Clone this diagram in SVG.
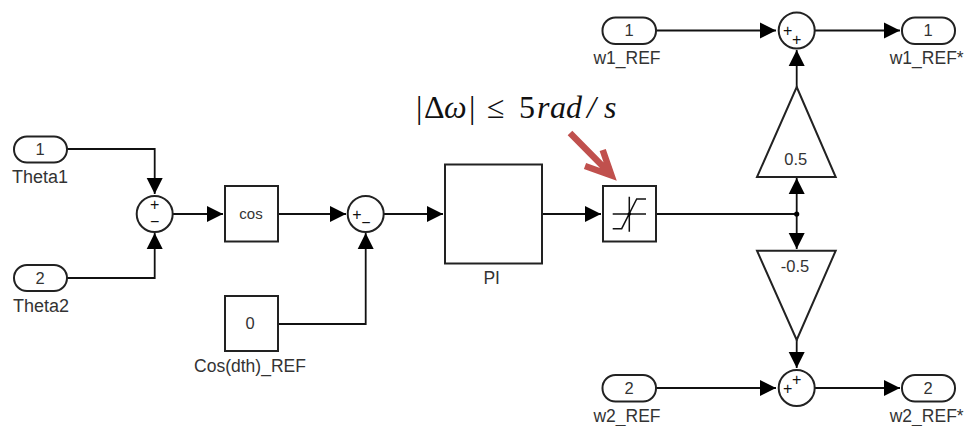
<svg xmlns="http://www.w3.org/2000/svg" width="966" height="426" viewBox="0 0 966 426">
<defs>
<marker id="arr" markerUnits="userSpaceOnUse" markerWidth="17" markerHeight="17" refX="16" refY="8" orient="auto" viewBox="0 0 17 16"><path d="M0 0L16 8L0 16Z" fill="#000"/></marker>
</defs>
<style>
.b{fill:#fff;stroke:#222;stroke-width:2}
.w{fill:none;stroke:#111;stroke-width:1.8}
.w path{marker-end:url(#arr)}
text{font-family:"Liberation Sans",Arial,sans-serif;fill:#333;text-anchor:middle}
.l{font-size:17.5px}
.n{font-size:16.5px}
.s{font-size:16px;fill:#111}
.i{fill:none;stroke:#111;stroke-width:1.5}
.f{font-family:"Liberation Serif","DejaVu Serif",serif;font-size:32px;fill:#111;text-anchor:start}
</style>
<rect width="966" height="426" fill="#fff"/>
<g id="connectors" class="w">
<path d="M67 149H154.700V194"/>
<path d="M67 278H154.700V233"/>
<path d="M173 214H223"/>
<path d="M278 214H346"/>
<path d="M278 324H365.700V233"/>
<path d="M384 214H443"/>
<path d="M542 214H601"/>
<path d="M656 214H796.700" style="marker-end:none"/>
<path d="M796.700 214V178"/>
<path d="M796.700 214V249"/>
<path d="M796.700 87V50"/>
<path d="M796.700 340V368"/>
<path d="M656 30.500H776"/>
<path d="M815 30.500H900"/>
<path d="M656 388H776"/>
<path d="M815 388H900"/>
</g>
<circle id="junction" cx="796.700" cy="214" r="2.600" fill="#000"/>
<g id="theta1"><rect class="b" x="14" y="136.500" width="53" height="26" rx="13"/><text class="n" x="40" y="155">1</text><text font-size="18" x="40" y="183">Theta1</text></g>
<g id="theta2"><rect class="b" x="14" y="265" width="53" height="26" rx="13"/><text class="n" x="40" y="284">2</text><text font-size="18" x="41" y="312">Theta2</text></g>
<g id="sum1"><circle class="b" cx="154.700" cy="214" r="18"/><text class="s" x="154.700" y="210">+</text><text class="s" x="154.700" y="227">−</text></g>
<g id="cos"><rect class="b" x="225" y="186" width="53" height="55.500"/><text x="251" y="219" font-size="15">cos</text></g>
<g id="const0"><rect class="b" x="225" y="296" width="53" height="55"/><text class="n" x="250" y="329">0</text><text class="l" x="250" y="372">Cos(dth)_REF</text></g>
<g id="sum2"><circle class="b" cx="365.700" cy="214" r="18"/><text class="s" x="357" y="219.500">+</text><text class="s" x="366" y="228">−</text></g>
<g id="pi"><rect class="b" x="445" y="164.500" width="97" height="99"/><text class="l" x="491.700" y="284">PI</text></g>
<g id="saturation"><rect class="b" x="603" y="186" width="53" height="55.500"/>
<path class="i" d="M612.700 214H646M629.300 196.700V231.700M612.700 228.700H621.700L636.700 199H646"/><circle cx="629.300" cy="214" r="1.800" fill="#000"/></g>
<g id="annotation">
<text class="f" y="118"><tspan x="416">|</tspan><tspan x="424">Δ</tspan><tspan x="444" font-style="italic">ω</tspan><tspan x="469">|</tspan><tspan x="487">≤</tspan><tspan x="519">5</tspan><tspan font-style="italic" x="537 550 566 587 604">rad/s</tspan></text>
<path d="M570 133L609 172.500M585 166L611.500 175.500L602.700 150" fill="none" stroke="#c0504d" stroke-width="6.500"/>
</g>
<g id="gain-up"><path class="b" d="M796.700 87L835.700 177H757Z"/><text class="n" x="795.700" y="165">0.5</text></g>
<g id="gain-down"><path class="b" d="M757 250.700H835.700L796.700 340Z"/><text class="n" x="795" y="272">-0.5</text></g>
<g id="w1in"><rect class="b" x="602.500" y="17.500" width="53.500" height="26.500" rx="13"/><text class="n" x="629" y="36">1</text><text class="l" x="627" y="64">w1_REF</text></g>
<g id="w2in"><rect class="b" x="602.500" y="375" width="53.500" height="26.500" rx="13"/><text class="n" x="629" y="393.500">2</text><text class="l" x="627" y="422">w2_REF</text></g>
<g id="sum3"><circle class="b" cx="796.700" cy="30.500" r="18"/><text class="s" x="787.700" y="36">+</text><text class="s" x="796.700" y="45">+</text></g>
<g id="sum4"><circle class="b" cx="796.700" cy="388" r="18"/><text class="s" x="796.700" y="384.500">+</text><text class="s" x="787.700" y="393.500">+</text></g>
<g id="w1out"><rect class="b" x="902" y="17.500" width="53" height="26.500" rx="13"/><text class="n" x="928" y="36">1</text><text class="l" x="926.700" y="64">w1_REF*</text></g>
<g id="w2out"><rect class="b" x="902" y="375" width="53" height="26.500" rx="13"/><text class="n" x="928" y="393.500">2</text><text class="l" x="926.700" y="422">w2_REF*</text></g>
</svg>
